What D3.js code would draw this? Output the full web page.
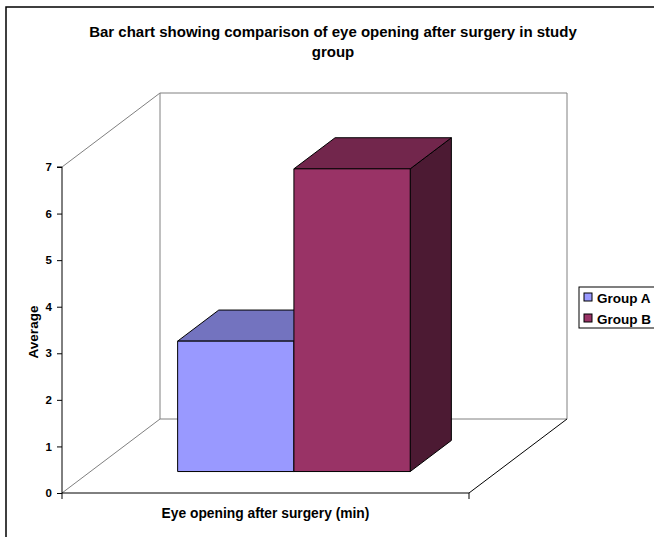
<!DOCTYPE html>
<html>
<head>
<meta charset="utf-8">
<script src="https://cdn.jsdelivr.net/npm/d3@7"></script>
<style>
  body { margin: 0; background: #fff; }
  svg { display: block; font-family: Arial, "Liberation Sans", sans-serif; }
</style>
</head>
<body>
<div id="chart"></div>
<script>
// data
const categories = ["Eye opening after surgery (min)"];
const series = ["Group A", "Group B"];
const values = [2.8, 6.5];
const yTicks = [0, 1, 2, 3, 4, 5, 6, 7];

const faceColors = {
  "Group A": {front: "#9999ff", top: "#7373bf", side: "#4d4d80"},
  "Group B": {front: "#993366", top: "#72264c", side: "#4c1a33"}
};

const W = 654, H = 537;
// oblique depth offsets (full depth of the floor)
const DX = 98, DY = -74;
const Z0 = 0.29, Z1 = 0.71;

let svg = d3.select("#chart").append("svg")
  .attr("width", W).attr("height", H);

// chart border
svg.append("rect")
  .attr("x", 6).attr("y", 7).attr("width", W + 10).attr("height", H + 10)
  .attr("fill", "none").attr("stroke", "#000").attr("stroke-width", 1.5);

let y = d3.scaleLinear().domain([0, 7]).range([493, 167]);
let x0 = d3.scaleBand().domain(categories).range([62, 469]);
let x1 = d3.scaleBand().domain(series).range([0, x0.bandwidth()]).paddingOuter(0.75);

const proj = (x, v, z) => [x + z * DX, y(v) + z * DY];
const line = d3.line();

// walls and floor
const xL = x0.range()[0], xR = x0.range()[1], vMax = y.domain()[1];
let walls = svg.append("g").attr("fill", "none").attr("stroke", "#808080").attr("stroke-width", 1);
walls.append("path").attr("d", line([proj(xL, 0, 1), proj(xL, vMax, 1), proj(xR, vMax, 1), proj(xR, 0, 1), proj(xL, 0, 1)]));
walls.append("path").attr("d", line([proj(xL, vMax, 0), proj(xL, vMax, 1)]));
walls.append("path").attr("d", line([proj(xL, 0, 0), proj(xL, 0, 1)]));
svg.append("path").attr("d", line([proj(xR, 0, 0), proj(xR, 0, 1)]))
  .attr("stroke", "#000").attr("fill", "none");

// bars
let bars = svg.append("g").attr("stroke", "#000").attr("stroke-width", 1).attr("stroke-linejoin", "round");
series.forEach((s, i) => {
  let v = values[i],
    xa = x0(categories[0]) + x1(s),
    xb = xa + x1.bandwidth(),
    c = faceColors[s],
    g = bars.append("g").attr("class", "bar");
  g.append("path").attr("fill", c.side)
    .attr("d", line([proj(xb, 0, Z0), proj(xb, 0, Z1), proj(xb, v, Z1), proj(xb, v, Z0)]) + "Z");
  g.append("path").attr("fill", c.top)
    .attr("d", line([proj(xa, v, Z0), proj(xa, v, Z1), proj(xb, v, Z1), proj(xb, v, Z0)]) + "Z");
  g.append("path").attr("fill", c.front)
    .attr("d", line([proj(xa, 0, Z0), proj(xa, v, Z0), proj(xb, v, Z0), proj(xb, 0, Z0)]) + "Z");
});

// y axis
let yAxis = svg.append("g")
  .attr("transform", "translate(" + xL + ",0)")
  .call(d3.axisLeft(y).tickValues(yTicks).tickSize(5).tickPadding(5).tickFormat(d3.format("d")));
yAxis.selectAll("text").attr("font-size", 11.5).attr("font-weight", "bold").attr("fill", "#000")
  .attr("font-family", "Arial, 'Liberation Sans', sans-serif");
yAxis.selectAll("line").attr("stroke", "#000");
yAxis.select(".domain").attr("d", "M-5," + y(vMax) + "H0V" + y(0));

// x axis
svg.append("path").attr("d", line([[xL, y(0)], [xR, y(0)]])).attr("stroke", "#000").attr("fill", "none");
svg.selectAll(".xtick").data([xL, xR]).enter().append("line")
  .attr("class", "xtick")
  .attr("x1", d => d).attr("x2", d => d)
  .attr("y1", y(0)).attr("y2", y(0) + 6)
  .attr("stroke", "#000");

// titles
let title = svg.append("text").attr("x", 333).attr("text-anchor", "middle")
  .attr("font-size", 15).attr("font-weight", "bold");
title.append("tspan").attr("x", 333).attr("y", 37).text("Bar chart showing comparison of eye opening after surgery in study");
title.append("tspan").attr("x", 333).attr("y", 57).text("group");

svg.append("text")
  .attr("x", (xL + xR) / 2).attr("y", 518).attr("text-anchor", "middle")
  .attr("font-size", 13.8).attr("font-weight", "bold")
  .text(categories[0]);

svg.append("text")
  .attr("transform", "translate(38,332) rotate(-90)")
  .attr("text-anchor", "middle")
  .attr("font-size", 13.5).attr("font-weight", "bold")
  .text("Average");

// legend
let legend = svg.append("g").attr("transform", "translate(579,287)");
legend.append("rect").attr("width", 90).attr("height", 41)
  .attr("fill", "#fff").attr("stroke", "#000").attr("stroke-width", 1);
let items = legend.selectAll(".item").data(series).enter().append("g")
  .attr("class", "item")
  .attr("transform", (d, i) => "translate(5," + (6 + i * 21) + ")");
items.append("rect").attr("width", 8).attr("height", 8)
  .attr("fill", d => faceColors[d].front).attr("stroke", "#000");
items.append("text").attr("x", 13).attr("y", 9.5)
  .attr("font-size", 13.5).attr("font-weight", "bold")
  .text(d => d);
</script>
</body>
</html>
